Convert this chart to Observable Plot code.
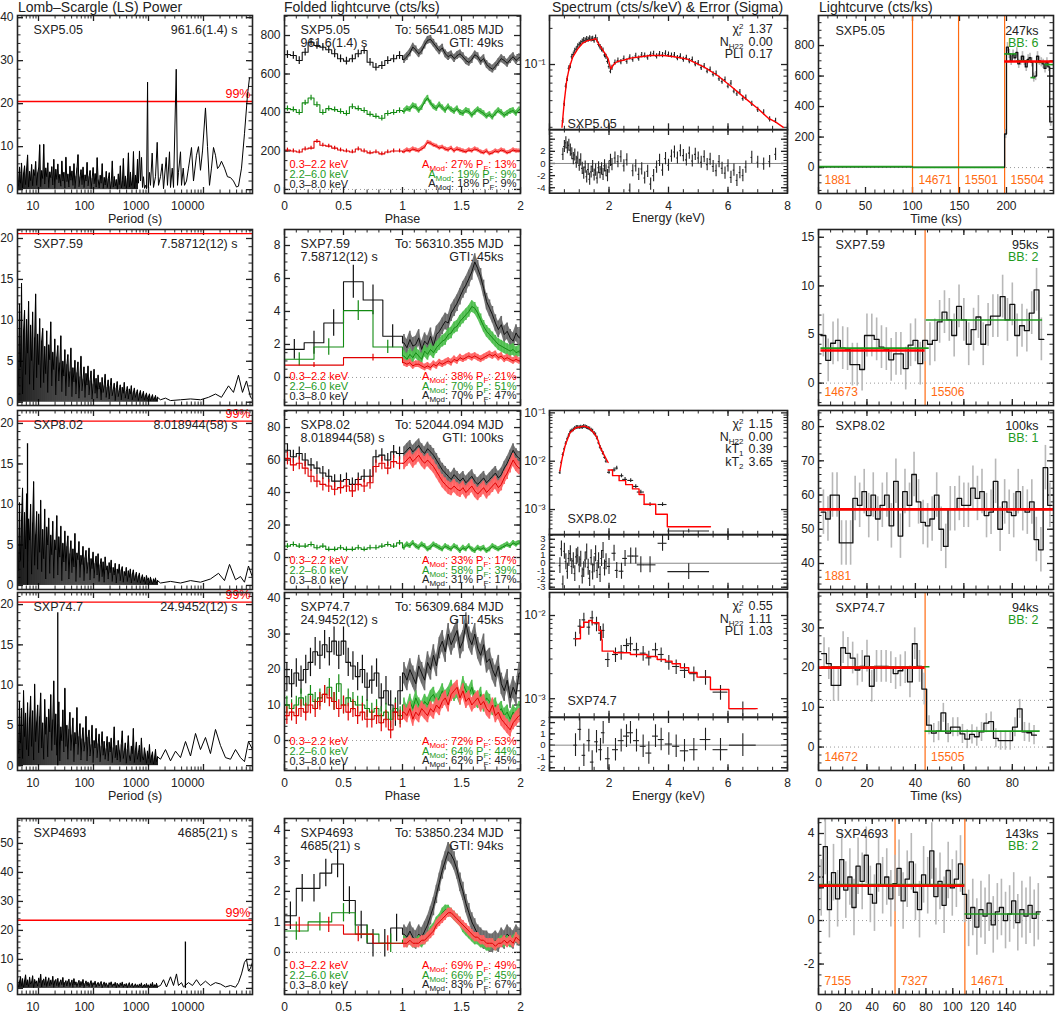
<!DOCTYPE html>
<html>
<head>
<meta charset="utf-8">
<script src="https://cdn.jsdelivr.net/npm/d3@7"></script>
<script src="https://cdn.jsdelivr.net/npm/@observablehq/plot@0.6"></script>
<style>
  html, body { margin: 0; padding: 0; background: #fff; }
  #fig { position: relative; width: 1055px; height: 1017px; overflow: hidden; background: #fff;
         font-family: "Liberation Sans", Arial, Helvetica, sans-serif; color: #222; }
  #fig svg { position: absolute; overflow: visible; }
  .coltitle { position: absolute; top: 0px; font-size: 14px; line-height: 14px; white-space: nowrap; color: #222; }
</style>
</head>
<body>
<div id="fig">
  <div class="coltitle" style="left:18px">Lomb–Scargle (LS) Power</div>
  <div class="coltitle" style="left:284px">Folded lightcurve (cts/ks)</div>
  <div class="coltitle" style="left:552px">Spectrum (cts/s/keV) &amp; Error (Sigma)</div>
  <div class="coltitle" style="left:819px">Lightcurve (cts/ks)</div>
</div>
<script>
// ===================== data =====================
const sources = ["SXP5.05", "SXP7.59", "SXP8.02", "SXP74.7", "SXP4693"];
const bestPeriods = ["961.6(1.4) s", "7.58712(12) s", "8.018944(58) s", "24.9452(12) s", "4685(21) s"];
const epochs = ["To: 56541.085 MJD", "To: 56310.355 MJD", "To: 52044.094 MJD", "To: 56309.684 MJD", "To: 53850.234 MJD"];
const gtis = ["GTI: 49ks", "GTI: 45ks", "GTI: 100ks", "GTI: 45ks", "GTI: 94ks"];
const bands = ["0.3–2.2 keV", "2.2–6.0 keV", "0.3–8.0 keV"];
const ampSoft = ["A_{Mod}: 27% P_{F}: 13%", "A_{Mod}: 38% P_{F}: 21%", "A_{Mod}: 33% P_{F}: 17%", "A_{Mod}: 72% P_{F}: 53%", "A_{Mod}: 69% P_{F}: 49%"];
const ampHard = ["A_{Mod}: 19% P_{F}: 9%", "A_{Mod}: 70% P_{F}: 51%", "A_{Mod}: 58% P_{F}: 39%", "A_{Mod}: 64% P_{F}: 44%", "A_{Mod}: 66% P_{F}: 45%"];
const ampTotal = ["A_{Mod}: 18% P_{F}: 9%", "A_{Mod}: 70% P_{F}: 47%", "A_{Mod}: 31% P_{F}: 17%", "A_{Mod}: 62% P_{F}: 45%", "A_{Mod}: 83% P_{F}: 67%"];
const exposures = ["247ks", "95ks", "100ks", "94ks", "143ks"];
const blockCounts = ["BB: 6", "BB: 2", "BB: 1", "BB: 2", "BB: 2"];

// ---- Lomb–Scargle power: forest on a uniform log10(period) grid, then sparse long-period points
const lsGridStart = 0.618;               // log10(P/s) of the first grid point
const lsDomainLog = [0.618, 4.891];
const lsPeriodTicks = [10, 100, 1000, 10000];
const lsLevel99 = [20.5, 20.6, 20.3, 20.3, 23.5];
const ls1Forest = [4.5,0.8,5.2,1.5,6.1,0.4,3.8,5.5,1.2,4.9, 8.0,0.6,4.2,2.1,5.8,0.9,4.6,3.3,6.5,1.0,
  3.9,5.1,10.4,0.7,4.4,2.6,10.5,1.3,5.0,3.0, 6.2,0.5,4.1,2.8,5.3,1.1,7.0,0.3,4.7,2.4,
  5.9,1.6,3.5,0.8,6.6,2.0,4.0,0.4,7.5,1.9, 3.6,0.6,5.4,2.2,4.3,1.0,6.0,0.3,3.1,5.0,
  8.1,0.7,2.9,4.6,1.2,5.2,0.5,3.4,2.0,6.3, 0.9,3.0,4.4,0.2,2.6,5.1,1.4,3.7,0.6,7.4,
  2.2,0.4,3.3,1.5,6.0,0.3,2.8,1.1,4.2,0.5, 2.5,3.9,0.2,1.8,6.6,0.6,3.0,0.9,2.3,0.1,
  3.6,1.2,5.5,0.4,2.0,7.2,0.8,3.1,0.3,2.7, 8.5,0.6,4.0,1.0,2.2,8.8,0.4,3.3,1.6,7.0];
const ls1ForestEnd = 2.8;
const ls1TailLogP = [2.818,2.836,2.855,2.873,2.891,2.909,2.927,2.945,2.964,2.983,2.995,3.018,3.036,3.067,3.091,3.127,3.158,3.182,3.218,3.249,3.273,3.322,3.345,3.382,3.4,3.431,3.455,3.504,3.527,3.545,3.582,3.6,3.631,3.655,3.691,3.727,3.782,3.818,3.873,3.909,3.945,3.982,4.036,4.073,4.109,4.145,4.182,4.218,4.255,4.291,4.327,4.382,4.436,4.491,4.545,4.6,4.636,4.691,4.745,4.8,4.836];
const ls1TailPower = [1.5,9,2,7.5,0.5,3,0.3,1,0.2,25,0.5,4,1,8.5,0.5,3,11,1,3,6,0.2,7.5,1,8.8,0.5,5,0.5,28,1,4,8.8,1,5,1,2,5,9.8,2,8,10,4.5,9,19,10,1,5,9.8,8,4.9,5.5,6.6,5,3,2.8,2,0.6,0.8,5,13,22,26];

const ls2Forest = [9.5,2.1,12.0,4.3,14.5,1.0,8.8,11.2,3.4,10.1, 6.0,12.3,2.2,9.4,5.1,11.0,1.5,7.9,13.2,3.0,
  8.3,4.6,10.2,1.8,7.5,9.0,2.4,6.8,3.5,8.7, 1.2,7.0,5.2,9.8,2.0,6.1,4.0,7.7,0.9,5.5,
  6.9,2.6,4.8,8.1,1.3,5.0,3.2,6.4,0.8,4.6, 5.8,1.9,3.7,6.6,0.7,4.2,2.5,5.1,1.0,3.6,
  4.9,0.5,3.1,5.6,1.4,2.8,4.3,0.6,3.5,2.1, 4.4,0.9,2.6,3.8,0.4,2.2,4.0,1.1,2.9,0.5,
  3.3,1.6,2.4,0.3,3.0,1.2,2.0,3.4,0.6,1.8, 2.7,0.4,1.9,2.9,0.8,1.5,2.3,0.2,1.7,2.5,
  0.7,1.4,2.1,0.3,1.8,1.1,2.4,0.5,1.3,1.9, 0.4,1.6,1.0,2.0,0.3,1.2,1.7,0.6,1.1,1.5,
  0.2,1.0,1.4,0.5,0.9,1.3,0.3,0.8,1.1,0.4, 0.7,1.0,0.2,0.6,0.9,0.3,0.5,0.8,0.2,0.6];
const ls2ForestEnd = 3.164;
const ls2TailLogP = [3.218,3.309,3.4,3.582,3.764,3.945,4.091,4.218,4.327,4.455,4.545,4.636,4.709,4.782,4.855,4.891];
const ls2TailPower = [0.3,0.5,0.2,0.3,0.4,0.3,0.6,1.0,0.6,2.0,1.2,3.3,1.2,2.6,0.6,0.4];

const ls3Forest = [7.5,1.8,10.2,3.1,8.4,12.0,2.2,9.0,4.5,11.3, 3.0,8.2,5.6,10.0,1.4,7.7,12.8,2.5,6.3,9.1,
  2.0,8.8,4.1,10.5,1.7,6.9,3.3,9.4,0.8,7.2, 5.0,8.3,1.5,6.2,3.8,7.9,0.9,5.6,4.4,8.6,
  1.3,6.0,3.5,7.3,0.6,5.2,2.9,6.7,1.8,4.8, 6.1,0.8,3.9,5.5,1.6,4.5,2.3,6.4,0.5,4.0,
  3.2,5.4,1.0,3.7,2.6,4.8,0.6,3.4,4.3,1.5, 2.8,4.6,0.7,3.3,2.1,4.1,0.9,2.7,3.6,1.3,
  3.9,0.5,2.5,3.3,1.1,2.9,0.4,3.5,1.9,2.4, 0.8,2.8,1.6,3.1,0.5,2.2,1.3,2.7,0.3,2.0,
  1.5,2.6,0.6,1.9,2.3,0.4,1.7,1.2,2.2,0.5, 1.8,1.0,2.0,0.3,1.4,1.9,0.6,1.2,1.6,0.4,
  1.1,1.5,0.3,0.9,1.3,0.5,1.0,0.2,1.2,0.7, 0.9,0.3,1.0,0.6,0.2,0.8,0.5,0.9,0.3,0.6];
const ls3ForestEnd = 3.164;
const ls3TailLogP = [3.218,3.4,3.582,3.764,3.945,4.127,4.273,4.382,4.473,4.582,4.673,4.745,4.818,4.891];
const ls3TailPower = [0.3,0.5,0.3,0.6,0.4,0.8,1.5,0.6,2.6,0.7,1.1,0.4,2.4,1.0];
const ls3Peak = [[0.80, 17.5]];

const ls4Forest = [6.2,1.5,8.0,2.8,7.1,0.9,9.3,3.6,6.5,2.0, 7.8,1.2,5.9,8.6,2.4,6.8,0.7,10.1,3.0,5.4,
  7.5,1.6,6.1,9.0,2.2,5.3,0.8,8.2,3.9,6.0, 1.1,7.0,4.2,8.8,1.9,5.7,10.5,2.6,6.4,1.3,
  5.1,7.9,0.6,4.8,3.1,6.9,1.7,9.6,2.4,5.0, 0.8,4.5,6.6,1.9,3.8,5.9,0.5,4.1,2.7,7.2,
  1.4,3.6,5.2,0.7,3.3,4.7,1.8,2.9,6.1,0.6, 3.5,4.4,1.2,2.6,5.0,0.4,3.1,2.2,4.6,1.0,
  2.7,3.9,0.5,2.4,4.2,1.3,3.0,0.8,2.1,3.6, 0.6,2.9,1.7,3.4,0.4,2.2,4.8,1.0,2.5,0.7,
  3.1,1.9,0.5,2.6,4.3,0.9,1.8,2.8,0.3,2.0, 3.7,1.2,0.6,2.4,1.5,4.6,0.4,1.9,2.9,0.8,
  1.6,2.5,0.5,3.4,1.1,0.7,2.2,1.4,0.3,1.8, 0.9,2.6,0.4,1.2,1.7,0.2,1.0,2.0,0.5,1.1];
const ls4ForestEnd = 3.164;
const ls4TailLogP = [3.218,3.309,3.4,3.491,3.582,3.673,3.764,3.855,3.945,4.036,4.127,4.218,4.309,4.4,4.491,4.582,4.673,4.745,4.818,4.891];
const ls4TailPower = [0.8,2.0,0.6,1.8,1.0,3.0,1.2,4.0,2.0,3.5,1.5,4.5,2.5,1.0,0.8,2.0,1.0,0.5,3.0,2.0];
const ls4Peak = [[1.35, 19.0]];

const ls5Forest = [3.1,0.5,2.4,4.0,1.0,3.3,0.4,2.7,4.6,1.2, 2.9,0.6,3.8,1.5,2.2,4.3,0.3,3.0,1.8,2.5,
  0.8,3.5,2.0,4.8,0.5,2.6,3.2,1.1,3.9,0.7, 2.3,3.6,0.9,2.8,1.4,4.1,0.4,2.5,3.0,1.0,
  3.4,0.6,2.1,2.9,1.3,3.7,0.5,2.0,2.6,0.8, 2.4,3.1,0.7,1.9,2.8,0.4,3.3,1.2,2.2,0.6,
  1.8,2.7,0.5,2.3,1.0,3.0,0.3,1.6,2.5,0.9, 2.1,0.6,1.7,2.6,0.4,1.9,1.2,2.4,0.5,1.5,
  2.0,0.8,1.6,2.3,0.3,1.4,2.1,0.7,1.8,1.1, 0.4,1.9,1.3,2.2,0.6,1.5,1.0,2.0,0.3,1.7,
  1.2,0.5,1.8,1.0,2.1,0.4,1.4,0.9,1.6,0.3, 1.3,1.9,0.6,1.1,1.7,0.4,1.0,1.5,0.7,1.2,
  0.5,1.4,0.9,1.8,0.3,1.0,1.3,0.6,1.6,0.8, 1.1,0.4,1.5,0.9,2.0,0.5,1.2,0.8,1.7,0.6];
const ls5ForestEnd = 3.164;
const ls5TailLogP = [3.218,3.273,3.327,3.4,3.455,3.509,3.545,3.6,3.636,3.727,3.8,3.873,3.945,4.036,4.127,4.218,4.309,4.4,4.491,4.582,4.636,4.691,4.745,4.782,4.818,4.855,4.891];
const ls5TailPower = [1.0,3,0.5,4,1,5,1,2,0.5,2,1,3,1,2.5,1,2,1.5,0.5,1,0.4,2,5,9,10,6,7,9];
const ls5Peak = [[3.671, 16.0]];

// ---- folded lightcurves: coarse bins over phase 0–1, fine bins over phase 1–2
const fold1Black = [701,696,670,713,765,748,739,726,705,679,667,679,705,722,661,635,644,670,679,696];
const fold1Green = [420,415,400,450,475,440,400,420,415,405,395,430,420,410,390,380,370,395,400,410];
const fold1Red = [205,200,195,210,215,250,230,225,215,205,200,195,210,200,190,195,185,195,200,200];
const fold1BlackFine = [675,690,710,740,725,705,720,750,775,780,760,740,720,735,705,690,700,680,695,705,690,670,660,675,700,690,665,680,650,635,625,640,660,680,670,655,675,690,670,685];
const fold1GreenFine = [405,420,415,435,430,410,425,455,475,450,430,420,440,425,410,430,415,405,420,400,395,410,405,385,400,415,405,395,380,390,375,395,410,400,385,395,405,410,395,415];
const fold1RedFine = [195,205,200,210,205,200,210,220,245,240,230,225,215,220,210,205,215,200,210,205,200,195,205,200,210,205,195,190,200,185,190,200,195,205,200,190,195,205,200,200];
const fold1Err = [20, 14, 10];   // black, green, red

const fold2Black = [1.7,2.1,3.3,5.8,4.7,2.5];
const fold2BlackErr = [0.6,0.7,0.8,1.0,0.9,0.7];
const fold2Green = [1.1,1.85,4.05,1.85];
const fold2GreenErr = [0.4,0.5,0.6,0.4];
const fold2Red = [0.75,1.2];
const fold2RedErr = [0.15,0.2];
const fold2BlackFine = [2.1,1.8,2.3,1.9,2.0,2.4,1.7,2.2,2.0,2.5,1.9,2.6,2.8,3.1,3.4,3.3,3.9,4.2,4.5,4.9,5.3,5.6,6.0,6.4,7.0,6.6,6.1,5.4,4.6,4.2,3.8,3.3,2.9,3.2,2.6,2.8,2.4,2.2,2.7,2.4];
const fold2GreenFine = [1.3,1.1,1.4,1.2,1.5,1.3,1.1,1.6,1.4,1.7,1.5,1.8,2.0,2.2,2.3,2.6,2.7,3.0,3.1,3.4,3.6,3.8,4.0,4.3,4.2,3.9,3.5,3.1,2.8,2.6,2.4,2.2,2.0,1.9,1.8,1.7,1.6,1.7,1.5,1.6];
const fold2RedFine = [0.9,0.8,0.9,0.7,0.8,0.8,0.7,0.6,0.7,0.6,0.8,0.7,0.9,0.8,0.9,1.0,0.9,1.1,1.0,1.2,1.1,1.2,1.3,1.2,1.3,1.2,1.1,1.2,1.3,1.4,1.3,1.4,1.2,1.3,1.1,1.2,1.1,1.0,1.1,1.0];
const fold2FineErr = [0.5, 0.35, 0.2];

const fold3Black = [66,62,64,60,57,55,52,50,47,47,48,45,48,50,50,62,63,60,65,64];
const fold3Green = [7,8,7,7,8,6,7,5,5,6,5,5,6,5,6,6,7,8,7,9];
const fold3Red = [61,57,58,55,50,47,45,44,42,43,44,41,45,44,46,56,58,55,59,58];
const fold3BlackFine = [64,66,68,65,67,69,66,64,67,65,63,60,57,54,52,50,48,51,49,47,49,46,48,50,47,45,47,49,46,48,50,52,49,51,55,58,62,66,63,61];
const fold3GreenFine = [6,8,7,9,7,6,8,7,5,6,8,7,6,5,7,6,5,7,6,4,6,5,7,5,4,6,5,6,4,5,7,6,5,6,7,8,7,9,8,9];
const fold3RedFine = [58,60,62,59,61,63,60,58,60,58,56,53,50,47,45,43,42,44,42,41,43,40,42,44,41,39,41,43,40,42,44,46,43,45,49,52,56,60,57,55];
const fold3Err = [4, 1.5, 4];

const fold4Black = [18,16,19,17,20,22,25,24,27,25,28,24,28,22,21,18,20,15,17,19,12,14,10,8,14];
const fold4Green = [10,9,10,12,10,13,11,12,13,15,11,16,10,12,11,10,10,9,8,9,7,8,6,9,7];
const fold4Red = [7,8,7,9,8,10,9,11,13,12,11,9,10,8,9,7,8,6,6,7,5,6,3,8,6];
const fold4BlackFine = [19,17,20,18,16,21,19,17,22,20,24,21,26,28,25,30,27,29,31,26,28,33,29,27,30,26,24,27,22,23,20,18,21,16,14,17,12,15,13,19];
const fold4GreenFine = [10,8,11,9,12,10,9,11,10,12,13,11,12,14,12,13,15,13,14,12,16,14,13,15,12,11,13,10,12,11,9,10,8,9,7,8,6,8,7,9];
const fold4RedFine = [8,7,9,6,8,7,9,8,7,9,8,10,9,11,12,10,13,14,15,12,14,11,12,10,11,12,10,11,9,8,10,7,8,6,5,4,3,5,6,7];
const fold4Err = [4, 2.5, 2.5];
const fold4FineErr = [3, 2, 2];

const fold5Black = [1.2,2.1,2.1,2.6,2.9,1.7,0.9,0.3,0.3,0.8];
const fold5Green = [0.7,1.0,1.3,0.6,0.3];
const fold5Red = [0.9,0.9,0.6,0.3];
const fold5BlackFine = [0.6,0.5,0.7,0.5,0.4,0.6,0.5,0.7,0.9,1.2,1.5,1.9,2.3,2.7,3.0,3.3,3.2,3.0,2.7,2.3,2.0,1.6,1.3,1.0,0.8,0.6,0.5,0.4,0.4,0.3,0.3,0.4,0.3,0.5,0.4,0.6,0.5,0.4,0.6,0.5];
const fold5GreenFine = [0.4,0.3,0.4,0.3,0.3,0.4,0.3,0.4,0.5,0.7,0.8,1.0,1.1,1.3,1.4,1.4,1.3,1.2,1.1,1.0,0.8,0.7,0.6,0.5,0.4,0.4,0.3,0.3,0.2,0.2,0.3,0.2,0.3,0.4,0.3,0.4,0.3,0.4,0.5,0.4];
const fold5RedFine = [0.3,0.3,0.4,0.3,0.3,0.3,0.4,0.4,0.5,0.6,0.7,0.9,1.0,1.1,1.2,1.3,1.3,1.2,1.1,1.0,0.9,0.8,0.7,0.6,0.5,0.5,0.4,0.4,0.3,0.3,0.3,0.2,0.3,0.3,0.4,0.3,0.4,0.3,0.5,0.4];
const fold5Err = [0.45, 0.3, 0.25];
const fold5FineErr = [0.3, 0.15, 0.15];

// ---- spectra (cts/s/keV) with model and residuals (sigma)
const spec1E = [0.45,0.5,0.55,0.6,0.65,0.7,0.75,0.8,0.85,0.9, 0.95,1.0,1.05,1.1,1.15,1.2,1.25,1.3,1.35,1.4,
  1.45,1.5,1.55,1.6,1.65,1.7,1.75,1.8,1.85,1.9, 1.95,2.0,2.05,2.1,2.2,2.3,2.4,2.5,2.6,2.7,
  2.8,2.9,3.0,3.1,3.2,3.3,3.4,3.5,3.6,3.7, 3.8,3.9,4.0,4.1,4.2,4.3,4.4,4.5,4.6,4.7,
  4.8,4.9,5.0,5.1,5.2,5.3,5.4,5.5,5.6,5.7, 5.8,5.9,6.0,6.1,6.2,6.3,6.4,6.5,6.6,6.8, 7.0,7.2,7.4,7.6];
const spec1Flux = [0.034,0.047,0.066,0.076,0.093,0.097,0.116,0.121,0.130,0.134, 0.142,0.146,0.150,0.155,0.160,0.158,0.163,0.161,0.165,0.162,
  0.164,0.158,0.168,0.160,0.147,0.140,0.134,0.131,0.120,0.116, 0.106,0.096,0.088,0.094,0.104,0.108,0.105,0.112,0.106,0.115,
  0.110,0.118,0.112,0.120,0.119,0.114,0.121,0.123,0.117,0.122, 0.120,0.124,0.121,0.119,0.120,0.113,0.117,0.110,0.114,0.107,
  0.110,0.101,0.103,0.094,0.097,0.088,0.091,0.083,0.084,0.076, 0.072,0.075,0.066,0.070,0.060,0.057,0.059,0.052,0.053,0.047, 0.042,0.040,0.035,0.034];
const spec1Resid = [1.5,2.8,3.4,2.6,3.0,2.2,1.6,0.8,1.4,0.2, 0.9,-0.3,0.6,-0.8,-1.6,-0.6,-2.2,-1.0,-2.6,-1.4,
  -0.5,-1.9,-1.1,-2.4,-0.7,-1.5,-0.9,-1.8,-0.4,-1.2, -2.0,-0.6,0.5,-0.2,0.9,0.3,1.1,-0.4,0.6,-4.4,
  -1.2,-0.4,-1.8,-0.9,-2.4,-1.3,-3.4,-2.0,-0.6,0.5, -1.1,0.8,-0.3,1.2,1.9,0.9,2.1,1.3,0.6,1.7,
  0.4,1.5,0.9,0.2,1.1,-0.2,0.7,-0.5,-1.2,0.3, -0.8,-1.6,-0.4,-2.3,-1.1,-2.8,-1.5,-2.0,-0.6,1.0, 0.2,-0.1,0.3,1.5];
const spec1ModelE = [0.42,0.5,0.58,0.67,0.78,0.95,1.12,1.28,1.45,1.56,1.62,1.73,1.84,1.97,2.06,2.17,2.28,2.51,2.73,3.07,3.40,3.85,4.19,4.64,5.20,5.65,6.10,6.55,7.00,7.34,7.62,7.86];
const spec1ModelFlux = [0.030,0.050,0.074,0.095,0.115,0.135,0.151,0.158,0.161,0.164,0.153,0.139,0.126,0.112,0.092,0.101,0.106,0.109,0.113,0.116,0.119,0.119,0.116,0.111,0.095,0.081,0.066,0.053,0.043,0.036,0.033,0.030];
const spec1Stats = [["χ^{2}_{r}", "1.37"], ["N_{H22}", "0.00"], ["PLI", "0.17"]];

const spec3E = [0.35,0.40,0.45,0.50,0.55,0.60,0.65,0.70,0.75,0.80,0.85,0.90,0.95,1.00,1.05,1.10,1.15,1.20,1.25,1.30,1.35,1.40,1.45,1.50,1.55,1.60,1.65,1.70,1.75,1.80,1.85,1.90,
  2.0,2.17,2.26,2.42,2.54,2.73,2.9,3.07,3.38,3.8,4.68];
const spec3EWidth = [0.025,0.025,0.025,0.025,0.025,0.025,0.025,0.025,0.025,0.025,0.025,0.025,0.025,0.025,0.025,0.025,0.025,0.025,0.025,0.025,0.025,0.025,0.025,0.025,0.025,0.025,0.025,0.025,0.025,0.025,0.025,0.025,
  0.05,0.07,0.05,0.08,0.08,0.1,0.1,0.12,0.2,0.15,0.7];
const spec3Flux = [0.0058,0.0095,0.0138,0.0180,0.0235,0.0290,0.0345,0.0405,0.0425,0.0445,0.0480,0.0500,0.0505,0.0498,0.0510,0.0500,0.0525,0.0515,0.0500,0.0478,0.0470,0.0440,0.0420,0.0380,0.0350,0.0300,0.0240,0.0195,0.0170,0.0145,0.0120,0.0100,
  0.0059,0.0066,0.0072,0.0050,0.0042,0.0040,0.0030,0.0023,0.00127,0.00127,0.00036];
const spec3Resid = [-0.3,1.8,-2.6,1.5,0.2,-1.0,0.6,1.2,-0.4,0.3,-1.3,0.8,1.0,-0.2,0.5,-1.6,-0.8,0.4,1.4,-0.5,-1.9,0.7,-1.1,-0.2,1.2,-0.9,0.3,-1.4,0.6,1.6,-0.6,0.2,
  -0.4,1.25,-0.9,-1.0,0.6,0.9,0.9,-0.2,-0.2,2.5,-1.05];
const spec3ModelE = [0.35,0.43,0.54,0.69,0.88,1.16,1.32,1.49,1.60,1.71,1.85,1.97];
const spec3ModelFlux = [0.00635,0.0119,0.0225,0.0388,0.0492,0.0533,0.0492,0.0388,0.0307,0.0191,0.0129,0.0094];
const spec3StepLo = [1.97,2.12,2.34,2.56,2.79,3.01,3.18,3.57,3.96];
const spec3StepHi = [2.12,2.34,2.56,2.79,3.01,3.18,3.57,3.96,5.41];
const spec3StepFlux = [0.00656,0.00502,0.00396,0.00327,0.00267,0.00205,0.00129,0.00080,0.00044];
const spec3Stats = [["χ^{2}_{r}", "1.15"], ["N_{H22}", "0.00"], ["kT_{1}", "0.39"], ["kT_{2}", "3.65"]];

const spec4E = [0.874,1.02,1.155,1.322,1.434,1.58,1.714,1.804,1.96,2.218,2.409,2.588,2.722,2.924,3.148,3.339,3.563,3.753,4.011,4.258,4.538,4.852,5.244,5.748,6.499];
const spec4EWidth = [0.06,0.06,0.06,0.06,0.06,0.06,0.06,0.06,0.08,0.1,0.1,0.1,0.1,0.1,0.1,0.1,0.1,0.1,0.12,0.12,0.14,0.14,0.18,0.25,0.45];
const spec4Flux = [0.00525,0.00744,0.00887,0.00724,0.00938,0.00795,0.00613,0.00661,0.00296,0.00340,0.00363,0.00436,0.00457,0.00388,0.00353,0.00310,0.00388,0.00340,0.00275,0.00244,0.00219,0.00200,0.00182,0.00120,0.00076];
const spec4Resid = [0.0,1.4,-0.9,0.4,-1.5,0.3,-0.4,1.1,-1.2,-0.4,0.4,0.8,1.1,0.4,-0.1,-0.7,0.8,0.5,0.1,-0.1,-0.5,-0.4,0.5,-0.4,0.0];
const spec4StepLo = [0.875,1.04,1.15,1.32,1.43,1.66,1.75,1.77,2.16,2.72,3.28,3.62,3.90,4.12,4.40,4.68,4.96,5.41,6.03];
const spec4StepHi = [1.04,1.15,1.32,1.43,1.66,1.75,1.77,2.16,2.72,3.28,3.62,3.90,4.12,4.40,4.68,4.96,5.41,6.03,6.98];
const spec4StepFlux = [0.00525,0.00724,0.00831,0.00871,0.00817,0.00661,0.00511,0.00373,0.00357,0.00340,0.00322,0.00296,0.00283,0.00263,0.00236,0.00207,0.00182,0.00129,0.00076];
const spec4Stats = [["χ^{2}_{r}", "0.55"], ["N_{H22}", "1.11"], ["PLI", "1.03"]];

// ---- binned lightcurves (cts/ks), observation starts, Bayesian blocks
const lc1QuietStart = [0, 100, 149];
const lc1QuietEnd = [100, 149, 198];
const lc1QuietRate = [5, 1, 1];
const lc1Start = 198, lc1Width = 2;
const lc1Rate = [220,790,745,700,740,720,755,680,700,730,700,660,710,720,690,590,600,730,700,690,680,650,690,660,300];
const lc1Obs = [0, 100, 149, 198], lc1ObsId = ["1881", "14671", "15501", "15504"];
const lc1Mean = [[198, 250, 695]];
const lc1Blocks = [[0,100,6],[100,198,1],[198,211,745],[211,226,700],[226,231,590],[231,241,690],[241,250,675]];

const lc2Start = 1.0, lc2Width = 2.0;
const lc2Rate = [4.9,2.35,4.1,4.4,3.6,3.5,1.9,1.9,1.4,4.9,4.9,4.5,3.7,3.5,2.4,3.0,3.0,1.5,3.9,4.4,2.0,4.4,4.0,4.4,6.3,7.3,6.5,4.9,7.9,6.5,4.0,5.5,6.8,4.0,6.0,6.9,6.9,8.9,6.5,8.1,4.9,5.9,5.4,7.2,9.6,4.5];
const lc2Obs = [0, 44], lc2ObsId = ["14673", "15506"];
const lc2Mean = [[1, 44, 3.35]];
const lc2Blocks = [[1, 45.7, 3.6], [44.5, 92.5, 6.5]];

const lc3Start = 1.1, lc3Width = 1.87;
const lc3Rate = [55,53,60,60,46,46,46,59,57,61,54,60,53,57,60,51,64,48,61,57,66,58,52,51,53,60,50,45,56,56,59,57,57,62,59,61,54,55,64,50,58,55,54,61,56,55,58,47,44,68,57];
const lc3Obs = [0], lc3ObsId = ["1881"];
const lc3Mean = [[0, 97, 55.8]];
const lc3Blocks = [[1, 96.5, 55.8]];

const lc4Start = 1.3, lc4Width = 1.97;
const lc4Rate = [23.5,21,15.5,15.5,25,23.6,22.4,19.4,20.3,22.9,15.3,20.3,20.3,20.3,20,18.5,19.2,20,16.4,26,20.3,14.6,5.5,3.5,4,8.6,3.5,5,5,3.3,2,3.2,2.6,3.8,6,6.4,2.2,1.6,1.6,1.6,5,9.6,3.8,3.6,3];
const lc4Obs = [0, 44], lc4ObsId = ["14672", "15505"];
const lc4Mean = [[0, 44, 20]];
const lc4Blocks = [[1.3, 46, 20.2], [44, 91.5, 4]];

const lc5Start = 0.5, lc5Width = 3.05;
const lc5Rate = [1.5,3.4,0.5,2.2,1.0,2.8,1.4,2.0,0.6,2.5,1.8,3.0,1.2,0.8,2.6,1.6,2.0,1.0,1.7,
  2.4,0.9,1.9,2.7,1.3,0.5,2.1,1.6,3.2,1.1,1.8,0.7,2.3,1.5,1.9,2.6,1.2,
  0.1,0.6,-0.3,0.5,0.2,0.8,-0.2,0.4,0.6,0.0,0.3,0.9,-0.1,0.5,0.2,0.7,0.1,0.4];
const lc5Obs = [0, 57, 109], lc5ObsId = ["7155", "7327", "14671"];
const lc5Mean = [[0, 109, 1.6]];
const lc5Blocks = [[0.5, 109, 1.65], [109, 165, 0.3]];

// ===================== drawing =====================
const RED = "#ff0000", GREEN = "#1e9a1e", ORANGE = "#ff6a10", ERRGREY = "#b8b8b8", INK = "#222";
const FONT = '"Liberation Sans", Arial, Helvetica, sans-serif';
const TICK_FS = 12, NOTE_FS = 12.5, KEY_FS = 11;

// panel frames in page pixels
const COLS = [[17, 252], [284, 520], [549, 787], [818, 1053]];
const ROWS = [[15, 193], [229, 405], [410, 589], [592, 770], [818, 994]];
const SPEC_SPLIT = {0: 129.3, 2: 534.3, 3: 716.7};
const PAD = {l: 46, r: 10, t: 10, b: 40};
const fig = document.getElementById("fig");
const fmt = d => (d < 0 ? "-" + String(-d) : String(d));
const range = (a, b, s) => d3.range(a, b + s / 2, s);
const logMinor = (lo, hi) => d3.range(lo, hi + 1).flatMap(e => [2,3,4,5,6,7,8,9].map(k => k * 10 ** e));

// turn "_{..}" and "^{..}" markup into sub/superscript tspans
function richText(svg) {
  for (const t of svg.querySelectorAll("text")) {
    const s = t.textContent;
    if (!/[_^]\{/.test(s)) continue;
    t.textContent = "";
    let shift = 0, supW = 0;
    for (const p of s.split(/([_^]\{[^}]*\})/)) {
      if (!p) continue;
      const sub = p.startsWith("_{"), sup = p.startsWith("^{");
      const ts = document.createElementNS("http://www.w3.org/2000/svg", "tspan");
      const target = sub ? 3 : sup ? -5 : 0;
      if (target !== shift) ts.setAttribute("dy", target - shift);
      shift = target;
      if (sub && supW) ts.setAttribute("dx", -supW);
      const txt = sub || sup ? p.slice(2, -1) : p;
      if (sub || sup) ts.setAttribute("font-size", "8");
      supW = sup ? txt.length * 4.6 : 0;
      ts.textContent = txt;
      t.appendChild(ts);
    }
  }
}

function panel(box, x, y, build) {
  const [x0, y0, x1, y1] = box;
  const w = x1 - x0, h = y1 - y0;
  const svg = Plot.plot({
    width: w + PAD.l + PAD.r, height: h + PAD.t + PAD.b,
    marginLeft: PAD.l, marginRight: PAD.r, marginTop: PAD.t, marginBottom: PAD.b,
    style: {background: "none", fontFamily: FONT, fontSize: "12px", color: INK, overflow: "visible"},
    x: {...x, axis: null}, y: {...y, axis: null},
    marks: [...build(w, h), Plot.frame({strokeWidth: 1.6})]
  });
  svg.style.left = (x0 - PAD.l) + "px";
  svg.style.top = (y0 - PAD.t) + "px";
  richText(svg);
  fig.appendChild(svg);
}

// inward ticks on all four sides, labels on bottom/left
function axes(w, h, xd, yd, o) {
  const inR = (arr, d) => (arr || []).filter(v => v >= Math.min(...d) && v <= Math.max(...d));
  const xm = inR(o.xt, xd), xn = inR(o.xm, xd), ym = inR(o.yt, yd), yn = inR(o.ym, yd);
  const L = 6, S = 3.5;
  const m = [
    Plot.tickX(xn, {x: d => d, insetTop: h - S, strokeWidth: 1}),
    Plot.tickX(xn, {x: d => d, insetBottom: h - S, strokeWidth: 1}),
    Plot.tickY(yn, {y: d => d, insetRight: w - S, strokeWidth: 1}),
    Plot.tickY(yn, {y: d => d, insetLeft: w - S, strokeWidth: 1}),
    Plot.tickX(xm, {x: d => d, insetTop: h - L, strokeWidth: 1.3}),
    Plot.tickX(xm, {x: d => d, insetBottom: h - L, strokeWidth: 1.3}),
    Plot.tickY(ym, {y: d => d, insetRight: w - L, strokeWidth: 1.3}),
    Plot.tickY(ym, {y: d => d, insetLeft: w - L, strokeWidth: 1.3})
  ];
  if (o.xl) m.push(Plot.axisX({ticks: o.xl, tickSize: 0, tickPadding: 8, tickFormat: o.xf ?? fmt, label: null, fontSize: o.xfs ?? TICK_FS}));
  if (o.yl) m.push(Plot.axisY({ticks: o.yl, tickSize: 0, tickPadding: 4, tickFormat: o.yf ?? fmt, label: null, fontSize: o.yfs ?? TICK_FS}));
  return m;
}

function note(text, frameAnchor, dx, dy, o = {}) {
  return Plot.text([text], {text: d => d, frameAnchor, dx, dy, textAnchor: o.anchor ?? "start",
    lineAnchor: "middle", fontSize: o.size ?? NOTE_FS, fill: o.fill ?? INK});
}
function axisTitle(text) {
  return Plot.text([text], {text: d => d, frameAnchor: "bottom", dy: 25, lineAnchor: "middle", fontSize: NOTE_FS, fill: INK});
}
const errAt = (e, i) => (Array.isArray(e) ? e[i] : e);

// ---------- Lomb–Scargle column ----------
function lsPanel(r, forest, forestEnd, tailLogP, tailPower, peaks, yDom, yt, ym, showX, title, show99) {
  const forestPts = forest.map((p, i) => ({P: 10 ** (lsGridStart + (forestEnd - lsGridStart) * i / (forest.length - 1)), p}));
  const pts = forestPts.concat(tailLogP.map((lp, i) => ({P: 10 ** lp, p: tailPower[i]})));
  const xd = lsDomainLog.map(v => 10 ** v);
  panel([COLS[0][0], ROWS[r][0], COLS[0][1], ROWS[r][1]], {type: "log", domain: xd}, {domain: yDom}, (w, h) => [
    ...axes(w, h, xd, yDom, {xt: lsPeriodTicks, xm: logMinor(0, 4), yt, ym, yl: yt}),
    // period labels sit just left of their decade ticks
    showX ? Plot.text(lsPeriodTicks, {x: d => d, text: d => String(d), frameAnchor: "bottom", dy: 12.5, dx: 1,
      textAnchor: "end", lineAnchor: "middle", fontSize: TICK_FS, fill: INK}) : null,
    Plot.ruleY([lsLevel99[r]], {stroke: RED, strokeWidth: 1.3}),
    show99 ? Plot.text([lsLevel99[r]], {y: d => d, text: () => "99%", frameAnchor: "right", dx: -2, dy: -7,
      textAnchor: "end", fill: RED, fontSize: NOTE_FS}) : null,
    Plot.ruleX(forestPts, {x: "P", y1: 0, y2: "p", stroke: "black", strokeWidth: 0.9, clip: true}),
    Plot.line(pts, {x: "P", y: "p", stroke: "black", strokeWidth: 1, clip: true}),
    Plot.ruleX(peaks, {x: d => 10 ** d[0], y1: 0, y2: d => d[1], stroke: "black", strokeWidth: 1.3}),
    note(sources[r], "top-left", 16, 14.5),
    note(bestPeriods[r], "top-right", -15, 14.5, {anchor: "end"}),
    title ? axisTitle("Period (s)") : null
  ]);
}
lsPanel(0, ls1Forest, ls1ForestEnd, ls1TailLogP, ls1TailPower, [], [-0.9, 40.5], range(0, 40, 10), range(0, 40, 2), true, true, true);
lsPanel(1, ls2Forest, ls2ForestEnd, ls2TailLogP, ls2TailPower, [], [-0.4, 21.1], range(0, 20, 5), range(0, 21, 1), false, false, false);
lsPanel(2, ls3Forest, ls3ForestEnd, ls3TailLogP, ls3TailPower, ls3Peak, [-0.5, 21.6], range(0, 20, 5), range(0, 21, 1), false, false, true);
lsPanel(3, ls4Forest, ls4ForestEnd, ls4TailLogP, ls4TailPower, ls4Peak, [-0.6, 21.5], range(0, 20, 5), range(0, 21, 1), true, true, true);
lsPanel(4, ls5Forest, ls5ForestEnd, ls5TailLogP, ls5TailPower, ls5Peak, [-2.1, 58.6], range(0, 50, 10), range(0, 58, 2), true, false, true);

// ---------- folded lightcurve column ----------
function foldPanel(r, yDom, yt, ym, series, showX, title) {
  const xd = [0, 2];
  panel([COLS[1][0], ROWS[r][0], COLS[1][1], ROWS[r][1]], {domain: xd}, {domain: yDom}, (w, h) => {
    const marks = [...axes(w, h, xd, yDom, {xt: [0, 0.5, 1, 1.5, 2], xm: range(0, 2, 0.1), yt, ym,
      xl: showX ? [0, 0.5, 1, 1.5, 2] : null, yl: yt}),
      Plot.ruleY([0], {stroke: "#999", strokeDasharray: "1,3"})];
    for (const s of series) {
      const n = s.coarse.length, m = s.fine.length;
      const steps = s.coarse.flatMap((v, i) => [{x: i / n, y: v}, {x: (i + 1) / n, y: v}]);
      steps.push({x: 1, y: s.fine[0]});
      const bars = s.coarse.map((v, i) => ({x: (i + 0.5) / n, lo: v - errAt(s.err, i), hi: v + errAt(s.err, i)}));
      const fine = s.fine.map((v, i) => ({x: 1 + (i + 0.5) / m, y: v, lo: v - errAt(s.fineErr, i), hi: v + errAt(s.fineErr, i)}));
      const fineLine = [{x: 1, y: s.fine[0]}, ...fine, {x: 2, y: s.fine[m - 1]}];
      marks.push(
        Plot.areaY(fine, {x: "x", y1: "lo", y2: "hi", fill: s.band, fillOpacity: 0.9, clip: true}),
        Plot.ruleX(fine, {x: "x", y1: "lo", y2: "hi", stroke: s.band, strokeWidth: 1.5, clip: true}),
        Plot.line(fineLine, {x: "x", y: "y", stroke: s.color, strokeWidth: 1, clip: true}),
        Plot.ruleX(bars, {x: "x", y1: "lo", y2: "hi", stroke: s.color, strokeWidth: 1.2, clip: true}),
        Plot.line(steps, {x: "x", y: "y", stroke: s.color, strokeWidth: 1.1, clip: true})
      );
    }
    marks.push(
      note(sources[r], "top-left", 16, 14.5), note(bestPeriods[r], "top-left", 16, 27),
      note(epochs[r], "top-right", -17, 14.5, {anchor: "end"}), note(gtis[r], "top-right", -17, 27, {anchor: "end"}),
      note(bands[0], "bottom-left", 5, -28.7, {fill: RED, size: KEY_FS}),
      note(bands[1], "bottom-left", 5, -19, {fill: GREEN, size: KEY_FS}),
      note(bands[2], "bottom-left", 5, -9.5, {size: KEY_FS}),
      note(ampSoft[r], "bottom-right", -4, -29.2, {anchor: "end", fill: RED, size: KEY_FS}),
      note(ampHard[r], "bottom-right", -4, -19.5, {anchor: "end", fill: GREEN, size: KEY_FS}),
      note(ampTotal[r], "bottom-right", -4, -10, {anchor: "end", size: KEY_FS}),
      title ? axisTitle("Phase") : null
    );
    return marks;
  });
}
const BAND_K = {color: "#111", band: "#6a6a6a"}, BAND_G = {color: "#138a13", band: "#4fbf4f"}, BAND_R = {color: "#e00000", band: "#ff6262"};
foldPanel(0, [-21, 904], range(0, 800, 200), range(0, 900, 50), [
  {...BAND_K, coarse: fold1Black, err: fold1Err[0], fine: fold1BlackFine, fineErr: fold1Err[0]},
  {...BAND_G, coarse: fold1Green, err: fold1Err[1], fine: fold1GreenFine, fineErr: fold1Err[1]},
  {...BAND_R, coarse: fold1Red, err: fold1Err[2], fine: fold1RedFine, fineErr: fold1Err[2]}], true, true);
foldPanel(1, [-1.7, 8.97], range(0, 8, 2), range(-1.5, 8.5, 0.5), [
  {...BAND_K, coarse: fold2Black, err: fold2BlackErr, fine: fold2BlackFine, fineErr: fold2FineErr[0]},
  {...BAND_G, coarse: fold2Green, err: fold2GreenErr, fine: fold2GreenFine, fineErr: fold2FineErr[1]},
  {...BAND_R, coarse: fold2Red, err: fold2RedErr, fine: fold2RedFine, fineErr: fold2FineErr[2]}], false, false);
foldPanel(2, [-19.7, 90.5], range(0, 80, 20), range(-15, 90, 5), [
  {...BAND_K, coarse: fold3Black, err: fold3Err[0], fine: fold3BlackFine, fineErr: fold3Err[0]},
  {...BAND_G, coarse: fold3Green, err: fold3Err[1], fine: fold3GreenFine, fineErr: fold3Err[1]},
  {...BAND_R, coarse: fold3Red, err: fold3Err[2], fine: fold3RedFine, fineErr: fold3Err[2]}], false, false);
foldPanel(3, [-8.45, 41.7], range(0, 40, 10), range(-8, 40, 2), [
  {...BAND_K, coarse: fold4Black, err: fold4Err[0], fine: fold4BlackFine, fineErr: fold4FineErr[0]},
  {...BAND_G, coarse: fold4Green, err: fold4Err[1], fine: fold4GreenFine, fineErr: fold4FineErr[1]},
  {...BAND_R, coarse: fold4Red, err: fold4Err[2], fine: fold4RedFine, fineErr: fold4FineErr[2]}], true, true);
foldPanel(4, [-1.38, 4.39], range(0, 4, 1), range(-1.25, 4.25, 0.25), [
  {...BAND_K, coarse: fold5Black, err: fold5Err[0], fine: fold5BlackFine, fineErr: fold5FineErr[0]},
  {...BAND_G, coarse: fold5Green, err: fold5Err[1], fine: fold5GreenFine, fineErr: fold5FineErr[1]},
  {...BAND_R, coarse: fold5Red, err: fold5Err[2], fine: fold5RedFine, fineErr: fold5FineErr[2]}], true, false);

// ---------- spectrum column ----------
function specPanel(r, yDom, decades, E, dE, flux, relErr, model, steps, stats, resid, rDom, rTicks, rLabels, showX, nameDy) {
  const xd = [0, 8];
  const split = SPEC_SPLIT[r];
  const pts = E.map((e, i) => ({e, lo: e - errAt(dE, i), hi: e + errAt(dE, i), f: flux[i],
    flo: flux[i] * (1 - errAt(relErr, i)), fhi: flux[i] * (1 + errAt(relErr, i)), res: resid[i]}));
  const modelPts = model ? model.E.map((e, i) => ({e, f: model.F[i]})) : [];
  const stepPts = steps ? steps.lo.flatMap((lo, i) => [{e: lo, f: steps.F[i]}, {e: steps.hi[i], f: steps.F[i]}]) : [];
  const decLabels = {"-1": "10⁻¹", "-2": "10⁻²", "-3": "10⁻³"};
  panel([COLS[2][0], ROWS[r][0], COLS[2][1], split], {domain: xd}, {type: "log", domain: yDom}, (w, h) => [
    ...axes(w, h, xd, yDom, {xt: [0, 2, 4, 6, 8], xm: range(0, 8, 0.5), yt: decades.map(d => 10 ** d),
      ym: logMinor(-4, -1), yl: decades.map(d => 10 ** d), yf: v => decLabels[String(Math.round(Math.log10(v)))]}),
    Plot.ruleY(pts, {y: "f", x1: "lo", x2: "hi", stroke: "#222", strokeWidth: 1.1}),
    Plot.ruleX(pts, {x: "e", y1: "flo", y2: "fhi", stroke: "#222", strokeWidth: 1.1, clip: true}),
    Plot.line(modelPts, {x: "e", y: "f", stroke: RED, strokeWidth: 1.4, clip: true}),
    Plot.line(stepPts, {x: "e", y: "f", stroke: RED, strokeWidth: 1.4, clip: true}),
    ...stats.flatMap(([k, v], i) => [
      note(k, "top-right", -44, 14 + 12.5 * i, {anchor: "end"}),
      note(v, "top-right", -39, 14 + 12.5 * i, {anchor: "start"})]),
    note(sources[r], "bottom-left", 18, nameDy)
  ]);
  panel([COLS[2][0], split, COLS[2][1], ROWS[r][1]], {domain: xd}, {domain: rDom}, (w, h) => [
    ...axes(w, h, xd, rDom, {xt: [0, 2, 4, 6, 8], xm: range(0, 8, 0.5), yt: rTicks, ym: range(-5, 5, 0.5),
      xl: showX ? [2, 4, 6, 8] : null, yl: rLabels, yfs: 9.5}),
    Plot.ruleY([0], {stroke: "#888", strokeWidth: 1}),
    Plot.ruleY(pts, {y: "res", x1: "lo", x2: "hi", stroke: "#222", strokeWidth: 1.1}),
    Plot.ruleX(pts, {x: "e", y1: d => d.res - 1, y2: d => d.res + 1, stroke: "#222", strokeWidth: 1.1, clip: true}),
    showX ? axisTitle("Energy (keV)") : null
  ]);
}
specPanel(0, [0.0286, 0.256], [-1], spec1E, 0.025, spec1Flux, 0.05,
  {E: spec1ModelE, F: spec1ModelFlux}, null, spec1Stats, spec1Resid, [-4.9, 5.6], [-4, -2, 0, 2, 4], [-4, -2, 0, 2], true, -6);
specPanel(2, [0.0003, 0.112], [-1, -2, -3], spec3E, spec3EWidth, spec3Flux, 0.09,
  {E: spec3ModelE, F: spec3ModelFlux}, {lo: spec3StepLo, hi: spec3StepHi, F: spec3StepFlux}, spec3Stats, spec3Resid,
  [-3.25, 3.6], [-3, -2, -1, 0, 1, 2, 3], [-3, -2, -1, 0, 1, 2, 3], false, -16);
specPanel(3, [0.0006, 0.0189], [-2, -3], spec4E, spec4EWidth, spec4Flux, 0.2,
  null, {lo: spec4StepLo, hi: spec4StepHi, F: spec4StepFlux}, spec4Stats, spec4Resid,
  [-2.27, 2.45], [-2, -1, 0, 1, 2], [-2, -1, 0, 1, 2], true, -16.5);

// ---------- lightcurve column ----------
function lcPanel(r, xDom, xt, xmStep, showX, title, yDom, yt, ymStep, segs, obs, obsId, mean, blocks) {
  panel([COLS[3][0], ROWS[r][0], COLS[3][1], ROWS[r][1]], {domain: xDom}, {domain: yDom}, (w, h) => {
    const bins = segs.flatMap(s => s.v.map((v, i) => ({t0: s.t0[i], t1: s.t1[i], v, e: s.e})));
    const steps = bins.flatMap(b => [{t: b.t0, v: b.v}, {t: b.t1, v: b.v}]);
    const bars = bins.filter(b => b.e).map(b => ({t: (b.t0 + b.t1) / 2, lo: b.v - b.e, hi: b.v + b.e}));
    return [
      ...axes(w, h, xDom, yDom, {xt, xm: range(0, xDom[1], xmStep), yt, ym: range(Math.ceil(yDom[0] / ymStep) * ymStep, yDom[1], ymStep),
        xl: showX ? xt : null, yl: yt}),
      Plot.ruleY([0], {stroke: "#999", strokeDasharray: "1,3"}),
      Plot.ruleX(obs.slice(1), {x: d => d, stroke: ORANGE, strokeWidth: 1.2}),
      Plot.ruleX(bars, {x: "t", y1: "lo", y2: "hi", stroke: ERRGREY, strokeWidth: 1.6, clip: true}),
      Plot.line(steps, {x: "t", y: "v", stroke: "#111", strokeWidth: 1.3, clip: true}),
      Plot.ruleY(blocks, {x1: d => d[0], x2: d => d[1], y: d => d[2], stroke: GREEN, strokeWidth: 1.6, clip: true}),
      Plot.ruleY(mean, {x1: d => d[0], x2: d => d[1], y: d => d[2], stroke: RED, strokeWidth: 2.6, clip: true}),
      Plot.text(obs.map((t, i) => ({t, id: obsId[i]})), {x: "t", text: "id", frameAnchor: "bottom", dx: 6, dy: -13,
        textAnchor: "start", lineAnchor: "middle", fill: ORANGE, fontSize: 12}),
      note(sources[r], "top-left", 17, 15),
      note(exposures[r], "top-right", -15, 15, {anchor: "end"}),
      note(blockCounts[r], "top-right", -15, 27, {anchor: "end", fill: GREEN}),
      title ? axisTitle("Time (ks)") : null
    ];
  });
}
const uniform = (start, width, v, e) => ({v, e, t0: v.map((_, i) => start + i * width), t1: v.map((_, i) => start + (i + 1) * width)});
lcPanel(0, [0, 250], [0, 50, 100, 150, 200], 10, true, true, [-170, 997], range(0, 800, 200), 50,
  [{v: lc1QuietRate, t0: lc1QuietStart, t1: lc1QuietEnd, e: 0}, uniform(lc1Start, lc1Width, lc1Rate, 30)],
  lc1Obs, lc1ObsId, lc1Mean, lc1Blocks);
lcPanel(1, [0, 97], [0, 20, 40, 60, 80], 5, false, false, [-2.3, 15.8], range(0, 15, 5), 1,
  [uniform(lc2Start, lc2Width, lc2Rate, 2.2)], lc2Obs, lc2ObsId, lc2Mean, lc2Blocks);
lcPanel(2, [0, 97], [0, 20, 40, 60, 80], 5, false, false, [32.4, 84.7], range(40, 80, 10), 2,
  [uniform(lc3Start, lc3Width, lc3Rate, 6.5)], lc3Obs, lc3ObsId, lc3Mean, lc3Blocks);
lcPanel(3, [0, 97], [0, 20, 40, 60, 80], 5, true, true, [-5.9, 38.9], range(0, 30, 10), 2,
  [uniform(lc4Start, lc4Width, lc4Rate.slice(0, 22), 4), uniform(lc4Start + 22 * lc4Width, lc4Width, lc4Rate.slice(22), 2.4)],
  lc4Obs, lc4ObsId, lc4Mean, lc4Blocks);
lcPanel(4, [0, 175], [0, 20, 40, 60, 80, 100, 120, 140], 5, true, false, [-3.4, 4.69], [-2, 0, 2, 4], 0.5,
  [uniform(lc5Start, lc5Width, lc5Rate, 1.3)], lc5Obs, lc5ObsId, lc5Mean, lc5Blocks);
</script>
</body>
</html>
